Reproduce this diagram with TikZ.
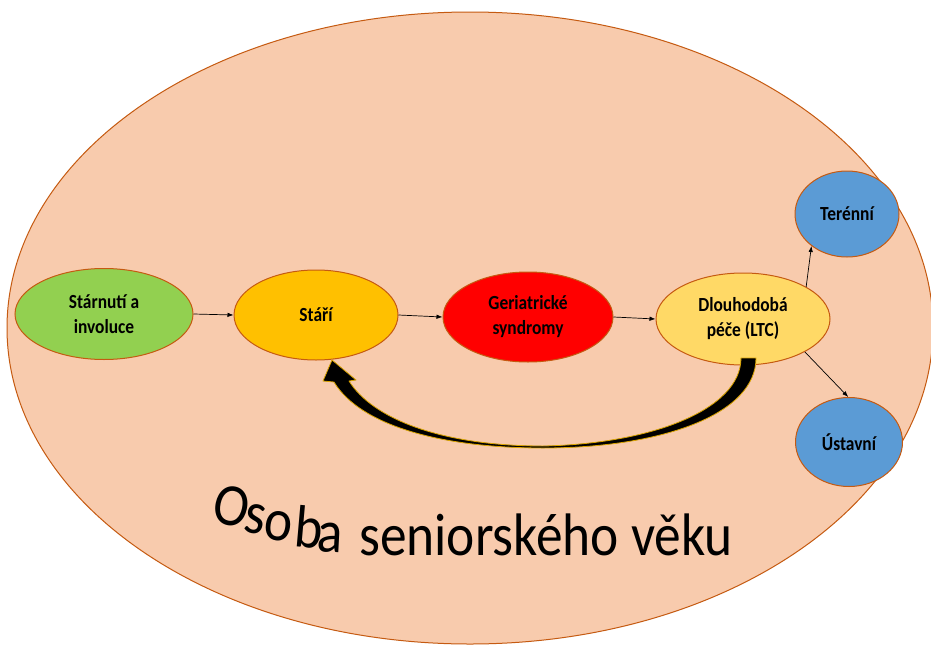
\documentclass[tikz,border=0pt]{standalone}
\usepackage{fontspec}
\usetikzlibrary{shapes.geometric,arrows.meta}
\newfontfamily\nodefont[FakeStretch=0.87]{Carlito}
\newfontfamily\titlefont[FakeStretch=0.89]{Carlito}
\definecolor{peach}{HTML}{F8CBAD}
\definecolor{rim}{HTML}{C55A11}
\definecolor{leaf}{HTML}{92D050}
\definecolor{amber}{HTML}{FFC000}
\definecolor{scarlet}{HTML}{FF0000}
\definecolor{butter}{HTML}{FFD966}
\definecolor{sky}{HTML}{5B9BD5}
\definecolor{glow}{HTML}{D9A300}
\tikzset{
  bubble/.style={ellipse, draw=rim, line width=1pt, align=center,
    font=\nodefont\fontsize{20}{25}\selectfont\bfseries, text=black, inner sep=0pt},
  link/.style={draw=black, line width=0.7pt, -{Latex[length=6pt,width=4.5pt]}},
  letter/.style={font=\titlefont\fontsize{60}{72}\selectfont, anchor=base, inner sep=0pt, text=black}
}
\begin{document}
\begin{tikzpicture}[x=1pt,y=-1pt]
\useasboundingbox (0,0) rectangle (931,645);
\fill[white] (0,0) rectangle (931,645);
% the surrounding person
\node[ellipse, draw=rim, fill=peach, line width=1pt, minimum width=926pt, minimum height=632pt, inner sep=0pt] (person) at (470,328) {};
% stages
\node[bubble, fill=leaf, minimum width=178pt, minimum height=91pt] (sa) at (104,314) {Stárnutí a\\involuce};
\node[bubble, fill=amber, minimum width=164pt, minimum height=90pt] (st) at (316,315) {Stáří};
\node[bubble, fill=scarlet, minimum width=170pt, minimum height=90pt] (gs) at (528,317) {Geriatrické\\syndromy};
\node[bubble, fill=butter, minimum width=174pt, minimum height=92pt] (ltc) at (743,319) {Dlouhodobá\\péče (LTC)};
\node[bubble, fill=sky, minimum width=104pt, minimum height=86pt] (ter) at (847,214) {Terénní};
\node[bubble, fill=sky, minimum width=107pt, minimum height=89pt] (ust) at (849,442) {Ústavní};
% connectors
\draw[link] (sa.east) -- (st.west);
\draw[link] (st.east) -- (gs.west);
\draw[link] (gs.east) -- (ltc.west);
\draw[link] (ltc.27) -- (ter.222);
\draw[link] (ltc.-28) -- (ust.91);
% the thick curved return arrow from long-term care back to old age
\fill[black, draw=glow, line width=0.8pt, line join=round]
  (741,358) .. controls (741,410) and (650,444) .. (543,446)
  .. controls (440,446) and (372,418) .. (349,381)
  -- (356,380) -- (332,360) -- (323,381) -- (334,382)
  .. controls (360,425) and (440,448) .. (543,448)
  .. controls (660,448) and (756,415) .. (756,358) -- cycle;
% caption, its first word on a rising arc
\node[letter, rotate=-12] (c1) at (228,525) {O};
\node[letter, rotate=-10] (c2) at (253,533) {s};
\node[letter, rotate=-8] (c3) at (276,540) {o};
\node[letter, rotate=-5] (c4) at (307,548) {b};
\node[letter, rotate=-3] (c5) at (329,552) {a};
\node[letter, anchor=base west] (c6) at (359,555) {seniorského věku};
\end{tikzpicture}
\end{document}
